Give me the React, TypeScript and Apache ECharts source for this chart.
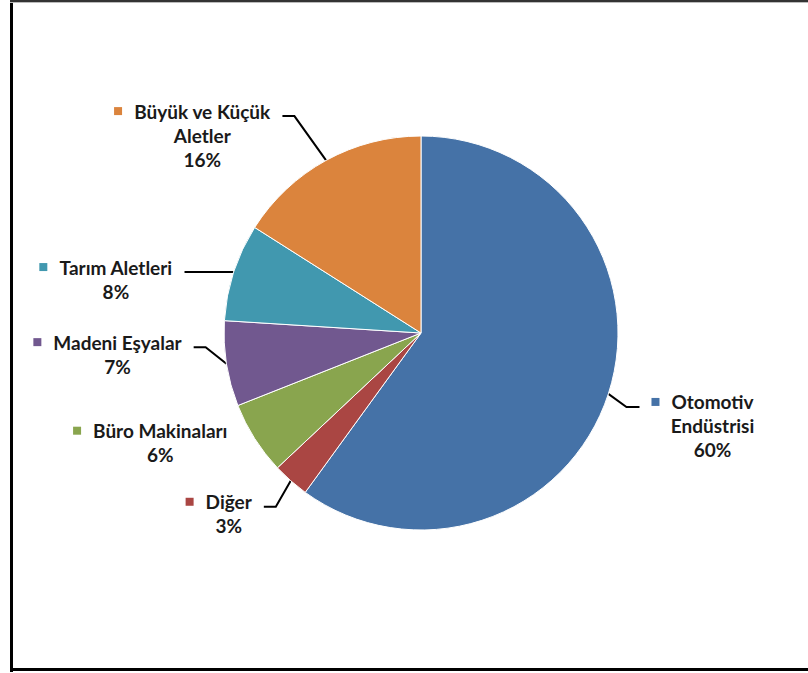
import React, { useEffect, useRef } from "react";
import * as echarts from "echarts";

const categories = [
  "Otomotiv\nEndüstrisi",
  "Diğer",
  "Büro Makinaları",
  "Madeni Eşyalar",
  "Tarım Aletleri",
  "Büyük ve Küçük\nAletler",
];
const values = [60, 3, 6, 7, 8, 16];
const colors = ["#4572A7", "#AA4643", "#89A54E", "#71588F", "#4198AF", "#DB843D"];
// label nudges [dx, dy] relative to ECharts' default outside placement
const labelNudges = [
  [9, 24],
  [10, 17],
  [25, -8],
  [10, -15],
  [-7, 10],
  [-10, -12],
];
const showLeader = [true, true, false, true, true, true];

export default function App() {
  const ref = useRef<HTMLDivElement>(null);
  useEffect(() => {
    if (!ref.current) return;
    const chart = echarts.init(ref.current, undefined, { renderer: "svg" });
    const rich: Record<string, any> = {
      n: {
        fontFamily: "Lato",
        fontWeight: "bold",
        fontSize: 19,
        color: "#1a1a1a",
        lineHeight: 24,
        align: "center",
      },
      g: { width: 12 },
      s: { width: 20 },
    };
    colors.forEach((c, i) => {
      rich["m" + i] = { width: 8, height: 8, backgroundColor: c };
    });
    chart.setOption({
      animation: false,
      backgroundColor: "#ffffff",
      graphic: [
        { type: "rect", shape: { x: 10, y: 0, width: 3, height: 672 }, style: { fill: "#000" } },
        { type: "rect", shape: { x: 10, y: 0, width: 798, height: 2 }, style: { fill: "#333" } },
        { type: "rect", shape: { x: 10, y: 2, width: 798, height: 1 }, style: { fill: "#bbb" } },
        { type: "rect", shape: { x: 10, y: 668, width: 798, height: 3 }, style: { fill: "#000" } },
      ],
      series: [
        {
          type: "pie",
          center: [421, 333],
          radius: 197,
          startAngle: 90,
          clockwise: true,
          data: categories.map((name, i) => ({
            name,
            value: values[i],
            itemStyle: { color: colors[i] },
          })),
          itemStyle: { borderColor: "#ffffff", borderWidth: 1 },
          label: {
            show: true,
            position: "outside",
            formatter: (p: any) => {
              const lines = String(p.name).split("\n");
              const first = `{m${p.dataIndex}|}{g|}{n|${lines[0]}}{s|}`;
              const rest = lines.slice(1).map((l) => `{n|${l}}`);
              return [first, ...rest, `{n|${Math.round(p.percent)}%}`].join("\n");
            },
            rich,
          },
          labelLine: {
            show: true,
            length: 18,
            length2: 12,
            lineStyle: { color: "#000", width: 2 },
          },
          labelLayout: (params: any) => {
            const i = params.dataIndex;
            const r = params.labelRect;
            const [dx, dy] = labelNudges[i];
            const x = r.x + dx;
            const y = r.y + dy;
            const orig = params.labelLinePoints;
            const res: any = { x, y, align: "left", verticalAlign: "top" };
            if (orig && orig.length) {
              const start = orig[0];
              const isRight = start[0] > 421;
              const ly = y + 12 + 5;
              let ax: number, bx: number;
              if (isRight) {
                ax = x - 12;
                bx = ax - 13;
              } else {
                ax = x + r.width - 8;
                bx = ax + 12;
              }
              res.labelLinePoints = showLeader[i]
                ? [start, [bx, ly], [ax, ly]]
                : [start, start, start];
            }
            return res;
          },
        },
      ],
    });
    return () => chart.dispose();
  }, []);
  return (
    <div
      ref={ref}
      style={{ position: "fixed", left: 0, top: 0, width: 808, height: 673 }}
    />
  );
}
